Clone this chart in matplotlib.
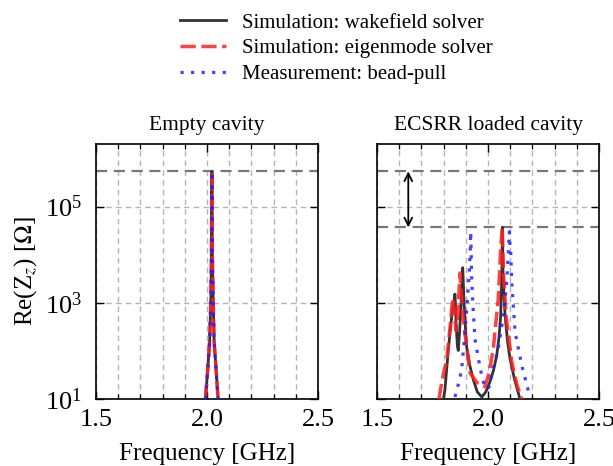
import matplotlib
matplotlib.use("Agg")
import matplotlib.pyplot as plt
import numpy as np

plt.rcParams['font.family'] = ['Liberation Serif', 'DejaVu Serif']
plt.rcParams['mathtext.fontset'] = 'stix'

# ---------------- data ----------------
# Empty cavity
empty_f = [1.993, 2.003, 2.012, 2.017, 2.020, 2.021, 2.022, 2.023, 2.024, 2.028, 2.032, 2.041, 2.050]
empty_wake = [10, 40, 160, 1000, 1e4, 1e5, 5.4e5, 1e5, 1e4, 1000, 160, 40, 10]
empty_eig = [10, 40, 160, 1000, 1e4, 1e5, 5.4e5, 1e5, 1e4, 1000, 160, 40, 10]
empty_meas = [10, 40, 160, 1000, 1e4, 1e5, 5.4e5, 1e5, 1e4, 1000, 160, 40, 10]

# ECSRR loaded cavity
wake_f = [1.799, 1.806, 1.821, 1.836, 1.846, 1.849, 1.851, 1.853, 1.856, 1.862, 1.866,
          1.872, 1.880, 1.884, 1.886, 1.888, 1.892, 1.898, 1.904, 1.918, 1.934, 1.952,
          1.972, 1.990, 2.009, 2.025, 2.039, 2.050, 2.057, 2.062, 2.065, 2.068, 2.077,
          2.088, 2.099, 2.120, 2.144]
wake_z = [10, 15.5, 102, 501, 1000, 1300, 1514, 1000, 398, 126, 102,
          251, 1259, 3300, 5370, 3300, 1000, 316, 120, 50, 25, 14,
          11, 14, 23, 40, 79, 200, 537, 3162, 3.7e4, 3162, 537,
          158, 69, 25, 10]

eig_f = [1.779, 1.790, 1.800, 1.814, 1.829, 1.837, 1.842, 1.847, 1.856, 1.864, 1.870,
         1.874, 1.878, 1.886, 1.896, 1.919, 1.950, 1.986, 2.005, 2.024, 2.046, 2.057,
         2.064, 2.070, 2.081, 2.107, 2.130, 2.152]
eig_z = [10, 20, 35, 63, 309, 800, 1260, 800, 263, 600, 2000,
         4170, 2000, 600, 229, 35, 22, 18, 35, 112, 1200, 1.26e4,
         3.7e4, 4000, 537, 59, 20, 10]

meas_f = [1.851, 1.866, 1.881, 1.896, 1.907, 1.916, 1.920, 1.922, 1.924, 1.927, 1.934,
          1.941, 1.964, 1.980, 1.994, 2.005, 2.016, 2.046, 2.069, 2.084, 2.092, 2.096,
          2.100, 2.102, 2.107, 2.122, 2.152, 2.189]
meas_z = [11, 20, 40, 229, 1100, 4570, 1.26e4, 3.0e4, 1.26e4, 2630, 631,
          178, 45, 22, 16, 18, 31, 112, 537, 2630, 1.26e4, 3.0e4,
          1.26e4, 1.26e4, 2630, 245, 50, 11]

ref_empty = 5.4e5
ref_loaded = 3.7e4

labels = ['Simulation: wakefield solver', 'Simulation: eigenmode solver', 'Measurement: bead-pull']
titles = ['Empty cavity', 'ECSRR loaded cavity']
xticks = [1.5, 2.0, 2.5]
yticks = [1e1, 1e3, 1e5]

# ---------------- figure ----------------
fig = plt.figure(figsize=(6.13, 4.66), dpi=100)
ax1 = fig.add_axes([0.1566, 0.1438, 0.3622, 0.547])
ax2 = fig.add_axes([0.615, 0.1438, 0.3622, 0.547])

c_black = '#333333'
c_red = '#ff1f1f'
c_blue = '#1f1fff'

datasets = [
    (empty_f, empty_wake, empty_f, empty_eig, empty_f, empty_meas),
    (wake_f, wake_z, eig_f, eig_z, meas_f, meas_z),
]

for ax, title, d in zip([ax1, ax2], titles, datasets):
    fw, zw, fe, ze, fm, zm = d
    l1, = ax.plot(fw, zw, color=c_black, lw=2.0, label=labels[0], zorder=3)
    l2, = ax.plot(fe, ze, color=c_red, lw=2.5, ls=(0, (4.4, 1.6)), alpha=0.85, label=labels[1], zorder=4)
    l3, = ax.plot(fm, zm, color=c_blue, lw=2.3, ls=(0, (1, 2.3)), alpha=0.85, label=labels[2], zorder=5)
    ax.set_yscale('log')
    ax.set_xlim(1.5, 2.5)
    ax.set_ylim(10, 2e6)
    ax.set_xticks(xticks)
    ax.set_xticks(np.arange(1.6, 2.45, 0.1), minor=True)
    ax.set_yticks(yticks)
    ax.yaxis.set_minor_locator(matplotlib.ticker.NullLocator())
    ax.xaxis.set_major_formatter(matplotlib.ticker.FormatStrFormatter('%.1f'))
    ax.grid(True, which='both', color='#b5b5b5', ls=(0, (4, 3)), lw=1.0, zorder=0)
    ax.tick_params(which='major', direction='in', top=True, right=True, length=6, width=1.0,
                   labelsize=19)
    ax.tick_params(axis='x', which='major', pad=7)
    ax.tick_params(axis='y', which='major', pad=10)
    ax.tick_params(which='minor', direction='in', top=True, right=True, length=3.5, width=0.9)
    for s in ax.spines.values():
        s.set_linewidth(1.2)
    ax.set_title(title, fontsize=15.5, pad=10)
    ax.set_xlabel('Frequency [GHz]', fontsize=18, labelpad=9)
    ax.axhline(ref_empty, color='#777777', ls=(0, (5, 3)), lw=1.6, zorder=2)

ax2.axhline(ref_loaded, color='#777777', ls=(0, (5, 3)), lw=1.6, zorder=2)
ax2.tick_params(labelleft=False)
ax2.annotate('', xy=(1.641, ref_empty), xytext=(1.641, ref_loaded),
             arrowprops=dict(arrowstyle='<->', color='black', lw=1.3, shrinkA=0, shrinkB=0,
                             mutation_scale=14))
ax1.set_ylabel(r'Re(Z$_z$) [$\Omega$]', fontsize=18, labelpad=4)

handles = [l1, l2, l3]
fig.legend(handles, labels, loc='upper left', bbox_to_anchor=(0.2936, 0.972),
           frameon=False, fontsize=15, borderpad=0, borderaxespad=0,
           handlelength=2.2, handletextpad=0.8, labelspacing=0.3)

fig.savefig('out.png', dpi=100)
